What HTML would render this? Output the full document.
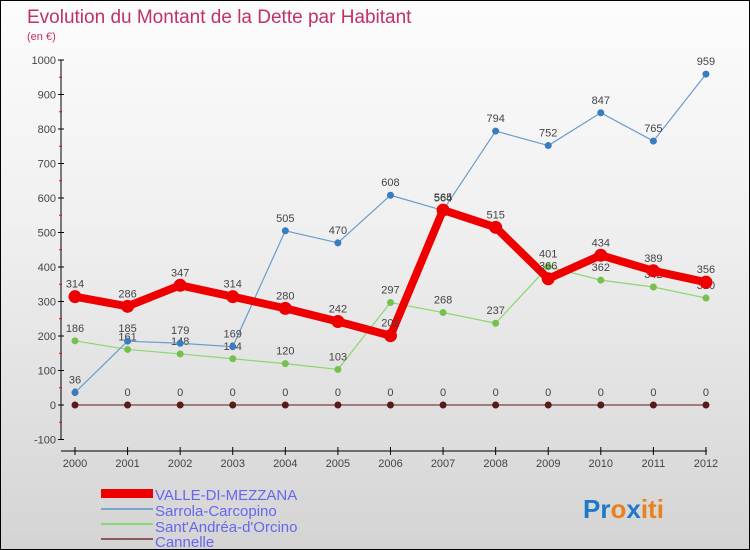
<!DOCTYPE html>
<html><head><meta charset="utf-8"><style>
body{margin:0}
#wrap{width:748px;height:548px;border:1px solid #000;background:linear-gradient(#fcfcfc,#f0f0f0 40%,#d4d4d4);position:relative;font-family:"Liberation Sans",sans-serif;overflow:hidden}
</style></head><body>
<div id="wrap">
<svg id="svg" width="748" height="548" font-family="Liberation Sans, sans-serif">
<text x="26" y="22" font-size="19" fill="#c0306a">Evolution du Montant de la Dette par Habitant</text>
<text x="26" y="39" font-size="11" fill="#c0306a">(en €)</text>
<g id="axes"></g><g id="series"></g>
<g>
<rect x="100" y="488" width="52" height="9" fill="#e00"/>
<rect x="100" y="507" width="52" height="2" fill="#7aa6cc"/>
<rect x="100" y="522" width="52" height="2" fill="#88d870"/>
<rect x="100" y="537" width="52" height="2" fill="#8c5a5a"/>
<g font-size="15" fill="#6666ee">
<text x="154" y="499">VALLE-DI-MEZZANA</text>
<text x="154" y="515">Sarrola-Carcopino</text>
<text x="154" y="531">Sant'Andréa-d'Orcino</text>
<text x="154" y="546">Cannelle</text>
</g></g>
<text x="582" y="517" font-size="26" font-weight="bold"><tspan fill="#1e7ac8">Pr</tspan><tspan fill="#e8821e">o</tspan><tspan fill="#1e7ac8">x</tspan><tspan fill="#e8821e">iti</tspan></text>
</svg></div>
<script>
const years=[2000,2001,2002,2003,2004,2005,2006,2007,2008,2009,2010,2011,2012];
const valle=[314,286,347,314,280,242,201,565,515,366,434,389,356];
const sarrola=[36,185,179,169,505,470,608,564,794,752,847,765,959];
const santandrea=[186,161,148,134,120,103,297,268,237,401,362,342,310];
const cannelle=[0,0,0,0,0,0,0,0,0,0,0,0,0];
const yTicks=[-100,0,100,200,300,400,500,600,700,800,900,1000];
const NS="http://www.w3.org/2000/svg";
const X=i=>74+i*52.58, Y=v=>404-v*0.345;
function mk(t,a,p){const e=document.createElementNS(NS,t);for(const k in a)e.setAttribute(k,a[k]);p.appendChild(e);return e;}
const ax=document.getElementById('axes'),sg=document.getElementById('series');
let l=mk('line',{x1:60,y1:Y(1000),x2:60,y2:Y(-100),stroke:'#000'},ax);


l=mk('line',{x1:60,y1:450,x2:706,y2:450,stroke:'#000'},ax);


yTicks.forEach(v=>{
 mk('line',{x1:57,y1:Y(v),x2:63,y2:Y(v),stroke:'#000'},ax);
 if(v<1000)mk('line',{x1:58,y1:Y(v+50),x2:61,y2:Y(v+50),stroke:'#f00'},ax);
 const t=mk('text',{x:55,y:Y(v)+4,'font-size':11,fill:'#444','text-anchor':'end'},ax);t.textContent=v;
 
 
});
years.forEach((y,i)=>{
 mk('line',{x1:X(i),y1:446,x2:X(i),y2:454,stroke:'#000'},ax);
 const t=mk('text',{x:X(i),y:466,'font-size':11,fill:'#444','text-anchor':'middle'},ax);t.textContent=y;
 
 
});
function draw(vals,color,w,r,dot,name,labels){
 const p=mk('polyline',{points:vals.map((v,i)=>X(i)+','+Y(v)).join(' '),fill:'none',stroke:color,'stroke-width':w,'stroke-linejoin':'round'},sg);
 
 
 vals.forEach((v,i)=>{
  const c=mk('circle',{cx:X(i),cy:Y(v),r:r,fill:dot,stroke:dot},sg);
  
  
  if(labels){const t=mk('text',{x:X(i),y:Y(v)-9,'font-size':11,fill:'#444','text-anchor':'middle'},sg);t.textContent=v;
  
  }
 });
}
draw(cannelle,'#8c5a5a',1.5,3,'#5a1a1a','cannelle',true);
draw(santandrea,'#88d870',1.2,3,'#77c050','santandrea',true);
draw(sarrola,'#6a9ccc',1.2,3,'#3a7cc0','sarrola',true);
draw(valle,'#ee0000',8,6,'#ee0000','valle',true);
</script>
</body></html>
